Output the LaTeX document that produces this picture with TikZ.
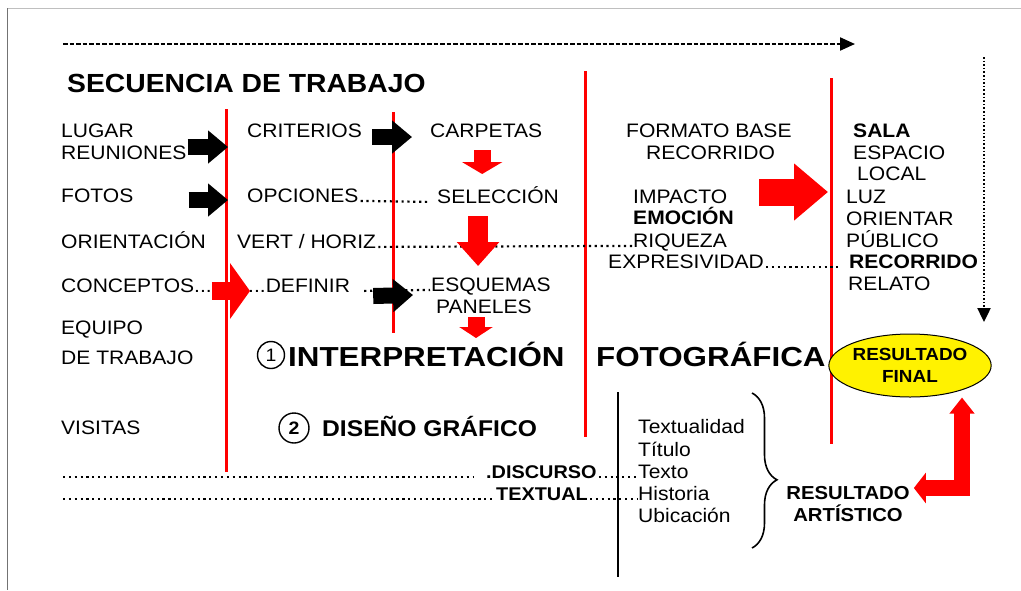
\documentclass[tikz,border=0pt]{standalone}
\usepackage{fontspec}
\setmainfont{Liberation Sans}[FakeStretch=1.08]
\newfontfamily\widesans{Liberation Sans}[FakeStretch=1.14]
\usetikzlibrary{calc,arrows.meta,shapes.geometric,decorations.pathreplacing}
\def\txtsize#1{\fontsize{#1}{#1}\selectfont}
\tikzset{
	lbl/.style={anchor=base west, inner sep=0pt, font=\txtsize{19.5}},
	blbl/.style={lbl, font=\txtsize{19.5}\bfseries},
	redline/.style={red, line width=3pt},
	blkfat/.style={black, line width=16pt, -{Triangle[length=20pt,width=32pt]}},
	redfat/.style n args={3}{red, line width=#1, -{Triangle[length=#2,width=#3]}},
	dotrow/.style={line width=2.2pt, line cap=butt, dash pattern=on 2.2pt off 3.65pt},
	numcirc/.style={circle, draw, line width=1.4pt, inner sep=0pt, font=\txtsize{18}},
	bracedraw/.style={decorate, decoration={brace, amplitude=25pt, aspect=0.56}, line width=1.6pt},
}

\begin{document}
\begin{tikzpicture}[x=1pt, y=-1pt]
		%%%%% START %%%%%
		\useasboundingbox (0,0) rectangle (1021,590);
		\fill[white] (0,0) rectangle (1021,590);
		\draw[black!25, line width=1pt] (7,8) -- (1021,8);
		\draw[black!55, line width=1pt] (7,8) -- (7,590);
		
		% flechas de recorrido
		\coordinate (topl) at (63,44);
		\coordinate (topr) at (855,44);
		\coordinate (downt) at (984,57);
		\coordinate (downb) at (984,322);
		\draw[line width=2.2pt, dash pattern=on 4.5pt off 2pt, -{Triangle[length=15pt,width=13pt]}] (topl) -- (topr);
		\draw[line width=2.4pt, dash pattern=on 1.6pt off 2pt, -{Triangle[length=14pt,width=13pt]}] (downt) -- (downb);
		
		\node[lbl, font=\txtsize{26.2}\bfseries] (titulo) at (67,92) {SECUENCIA DE TRABAJO};
		
		% lineas rojas
		\coordinate (l1t) at (226,109); \coordinate (l1b) at (226,472);
		\coordinate (l2t) at (393,112); \coordinate (l2b) at (393,333);
		\coordinate (l3t) at (585,71);  \coordinate (l3b) at (585,437);
		\coordinate (l4t) at (831,78);  \coordinate (l4b) at (831,444);
		\draw[redline] (l1t) -- (l1b);
		\draw[redline] (l2t) -- (l2b);
		\draw[redline] (l3t) -- (l3b);
		\draw[redline] (l4t) -- (l4b);
		
		% columna 1
		\node[lbl] (lugar) at (61,137) {LUGAR};
		\node[lbl] (reun) at (61,159) {REUNIONES};
		\node[lbl] (fotos) at (61,202) {FOTOS};
		\node[lbl] (orient) at (61,248) {ORIENTACIÓN};
		\node[lbl] (concep) at (61,292) {CONCEPTOS...};
		\node[lbl] (equipo) at (61,334) {EQUIPO};
		\node[lbl] (detrab) at (61,364) {DE TRABAJO};
		\node[lbl] (visitas) at (61,434) {VISITAS};
		
		% columna 2
		\node[lbl] (crit) at (247,137) {CRITERIOS};
		\node[lbl] (opc) at (247,202) {OPCIONES};
		\node[lbl] (vert) at (237,248) {VERT / HORIZ};
		\node[lbl] (defin) at (248,292) {...DEFINIR};
		
		% columna 3
		\node[lbl] (carp) at (430,137) {CARPETAS};
		\node[lbl] (sel) at (437,203) {SELECCIÓN};
		\node[lbl] (esq) at (431,291) {ESQUEMAS};
		\node[lbl] (pan) at (436,313) {PANELES};
		
		% columna 4
		\node[lbl] (fmt) at (626,137) {FORMATO BASE};
		\node[lbl] (rec) at (646,159) {RECORRIDO};
		\node[lbl] (imp) at (633,203) {IMPACTO};
		\node[blbl] (emo) at (633,224) {EMOCIÓN};
		\node[lbl] (riq) at (633,247) {RIQUEZA};
		\node[lbl] (expr) at (608,268) {EXPRESIVIDAD};
		
		% columna 5
		\node[blbl] (sala) at (853,137) {SALA};
		\node[lbl] (espacio) at (853,159) {ESPACIO};
		\node[lbl] (local) at (857,180) {LOCAL};
		\node[lbl] (luz) at (846,203) {LUZ};
		\node[lbl] (orientar) at (846,225) {ORIENTAR};
		\node[lbl] (publico) at (846,247) {PÚBLICO};
		\node[blbl] (reco) at (849,268) {RECORRIDO};
		\node[lbl] (relato) at (848,290) {RELATO};
		
		% puntos
		\draw[dotrow] ([xshift=2pt,yshift=1.1pt]opc.base east) -- ([xshift=-8pt,yshift=1.1pt]sel.base west);
		\draw[dotrow] ([xshift=2pt,yshift=1.1pt]vert.base east) -- ([xshift=-1pt,yshift=1.1pt]riq.base west);
		\draw[dotrow] ([xshift=2pt,yshift=1.1pt]expr.base east) -- ([xshift=-7pt,yshift=1.1pt]reco.base west);
		\draw[dotrow] ([xshift=14pt,yshift=1.1pt]defin.base east) -- ([xshift=-1pt,yshift=1.1pt]esq.base west);
		
		% flechas negras
		\draw[blkfat] ([xshift=1pt,yshift=12pt]reun.base east) -- ([xshift=-19pt,yshift=-10pt]crit.base west);
		\draw[blkfat] ([xshift=10pt]crit.base east) -- ([xshift=-18pt]carp.base west);
		\draw[blkfat] ([xshift=55pt,yshift=2pt]fotos.base east) -- ([xshift=-19pt,yshift=2pt]opc.base west);
		\draw[blkfat] ([xshift=23pt,yshift=-4pt]defin.base east) -- ([xshift=-18pt,yshift=-4pt]esq.base west);
		
		% flechas rojas
		\draw[redfat={18pt}{20pt}{55pt}] ([yshift=1pt]concep.base east) -- ([xshift=2pt,yshift=1pt]defin.base west);
		\draw[redfat={27pt}{34pt}{55pt}] ([xshift=32pt,yshift=11pt]imp.base east) -- ([xshift=-18pt,yshift=11pt]luz.base west);
		\draw[redfat={17pt}{12pt}{40pt}] ([xshift=-4pt,yshift=-13pt]carp.base) -- ++(0,24);
		\draw[redfat={20pt}{24pt}{41pt}] ([xshift=-20pt,yshift=-13pt]sel.base) -- ++(0,50);
		\draw[redfat={17pt}{11pt}{33pt}] ([xshift=-8pt,yshift=-4pt]pan.base) -- ++(0,21);
		
		% interpretacion y diseno
		\node[numcirc, minimum size=27pt] (uno) at (271,355) {1};
		\node[lbl, font=\txtsize{27.5}\widesans\bfseries] (interp) at (288,366) {INTERPRETACIÓN};
		\node[lbl, font=\txtsize{27.5}\widesans\bfseries] (foto) at (596,366) {FOTOGRÁFICA};
		\node[numcirc, minimum size=30pt, font=\txtsize{18}\bfseries] (dos) at (294,428) {2};
		\node[lbl, font=\txtsize{22.8}\bfseries] (dis) at (322,436) {DISEÑO GRÁFICO};
		
		\node[ellipse, draw, line width=1pt, fill=yellow, minimum width=154pt, minimum height=63pt, inner sep=0pt, align=center, font=\fontsize{17.5}{22}\selectfont\bfseries] (final) at (910,365.5) {RESULTADO\\FINAL};
		
		% discurso textual
		\draw[black, line width=2pt] (618,392) -- (618,577);
		\node[lbl] (txtlidad) at (638,433) {Textualidad};
		\node[lbl] (titl) at (638,456) {Título};
		\node[lbl] (texto) at (638,478) {Texto};
		\node[lbl] (hist) at (638,500) {Historia};
		\node[lbl] (ubic) at (638,522) {Ubicación};
		\node[blbl, font=\txtsize{18.4}\bfseries] (disc) at (486,478) {.DISCURSO};
		\node[blbl, font=\txtsize{18.4}\bfseries] (textl) at (496,500) {TEXTUAL};
		\coordinate (dl1) at (63,478);
		\coordinate (dl2) at (63,500);
		\draw[dotrow] ([yshift=1.1pt]dl1) -- ([xshift=-12pt,yshift=1.1pt]disc.base west);
		\draw[dotrow] ([xshift=2pt,yshift=1.1pt]disc.base east) -- ([xshift=-1pt,yshift=1.1pt]texto.base west);
		\draw[dotrow] ([yshift=1.1pt]dl2) -- ([xshift=-1pt,yshift=1.1pt]textl.base west);
		\draw[dotrow] ([xshift=2pt,yshift=1.1pt]textl.base east) -- ([xshift=-1pt,yshift=1.1pt]hist.base west);
		
		\draw[bracedraw] (752,393) -- (752,548);
		
		\node[inner sep=0pt, align=center, font=\fontsize{18.8}{22}\selectfont\bfseries] (resart) at (848,504.5) {RESULTADO\\ARTÍSTICO};
		
		\draw[red, line width=16pt, line join=miter, {Triangle[length=12pt,width=30pt]}-{Triangle[length=16pt,width=24pt]}] ([xshift=4pt,yshift=16.5pt]resart.east) -| ($(final.south)+(52,0)$);
		
		%%%%% END %%%%%
\end{tikzpicture}
\end{document}
